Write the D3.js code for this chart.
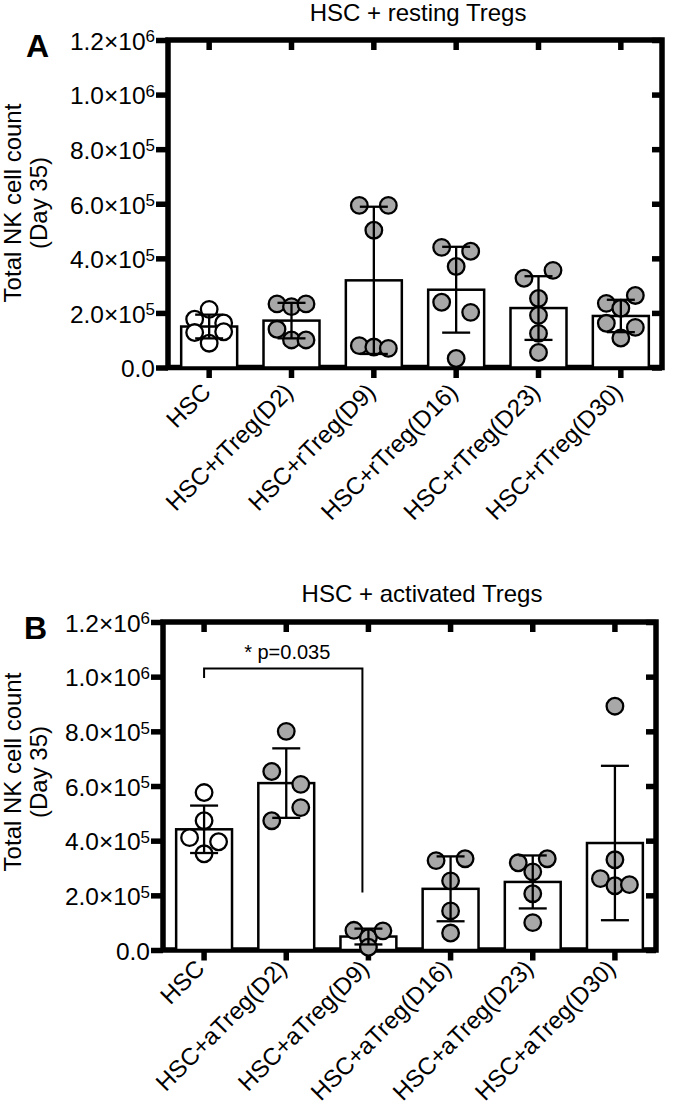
<!DOCTYPE html>
<html><head><meta charset="utf-8">
<script src="https://cdn.jsdelivr.net/npm/d3@7"></script>
<style>
body{margin:0;background:#fff;}
svg{display:block;}
</style></head><body>
<svg id="chart" width="675" height="1113"></svg>
<script>
// ---------- data ----------
const yTicks = [0, 2e5, 4e5, 6e5, 8e5, 1.0e6, 1.2e6];
const yMax = 1.2e6;
const yAxisTitle = ["Total NK cell count", "(Day 35)"];

const restingTitle = "HSC + resting Tregs";
const restingCategories = ["HSC","HSC+rTreg(D2)","HSC+rTreg(D9)","HSC+rTreg(D16)","HSC+rTreg(D23)","HSC+rTreg(D30)"];
const restingHSC  = [1.77e5, 2.13e5, 1.63e5, 1.28e5, 0.89e5, 1.31e5];
const restingD2   = [2.33e5, 2.23e5, 2.33e5, 1.40e5, 1.01e5, 1.01e5];
const restingD9   = [5.94e5, 5.94e5, 5.03e5, 0.80e5, 0.75e5, 0.70e5];
const restingD16  = [4.40e5, 4.26e5, 3.70e5, 2.39e5, 2.02e5, 0.33e5];
const restingD23  = [3.27e5, 3.56e5, 2.53e5, 1.91e5, 1.25e5, 0.55e5];
const restingD30  = [2.35e5, 2.17e5, 2.64e5, 1.62e5, 1.47e5, 1.08e5];

const activatedTitle = "HSC + activated Tregs";
const activatedCategories = ["HSC","HSC+aTreg(D2)","HSC+aTreg(D9)","HSC+aTreg(D16)","HSC+aTreg(D23)","HSC+aTreg(D30)"];
const activatedHSC = [5.76e5, 4.73e5, 4.11e5, 3.96e5, 3.52e5];
const activatedD2  = [8.00e5, 6.53e5, 6.06e5, 4.73e5, 5.21e5];
const activatedD9  = [0.72e5, 0.45e5, 0.70e5, 0.10e5];
const activatedD16 = [3.27e5, 3.34e5, 2.53e5, 1.43e5, 0.62e5];
const activatedD23 = [3.19e5, 2.86e5, 3.34e5, 2.06e5, 1.00e5];
const activatedD30 = [8.92e5, 3.30e5, 2.61e5, 2.35e5, 2.39e5];

const sigFrom = "HSC", sigTo = "HSC+aTreg(D9)", sigLabel = "* p=0.035";
const sigTop = 1.03e6, sigLeftEnd = 0.995e6, sigRightEnd = 2.1e5;

// ---------- drawing ----------
const FONT = "'Liberation Sans', Arial, Helvetica, sans-serif";
const svg = d3.select("#chart").attr("font-family", FONT);

function layoutPoints(vals, y, rowH, step){
  const pts = vals.map((v,i)=>({v, i, py:y(v), dx:0}));
  const sorted = pts.slice().sort((a,b)=>a.py-b.py);
  const rows = []; let cur = null;
  sorted.forEach(p=>{
    if (cur && p.py - cur.start < rowH) cur.pts.push(p);
    else { cur = {start:p.py, pts:[p]}; rows.push(cur); }
  });
  rows.forEach(r=>{
    r.pts.sort((a,b)=>a.i-b.i);
    const n = r.pts.length;
    const k = n % 2 === 0 ? 2 : 1;
    r.pts.forEach((p,j)=>{ p.dx = (j-(n-1)/2)*step*k; });
  });
  return pts;
}

function drawPanel(cfg, categories, groups, title, sig){
  const g = svg.append("g");
  const x = d3.scaleBand().domain(categories).range([cfg.left, cfg.right]).paddingInner(0.32).paddingOuter(0.16);
  const y = d3.scaleLinear().domain([0, yMax]).range([cfg.bottom, cfg.top]);
  const TW = 5.5;

  // frame
  g.append("rect").attr("x",cfg.left).attr("y",cfg.top)
    .attr("width",cfg.right-cfg.left).attr("height",cfg.bottom-cfg.top)
    .attr("fill","none").attr("stroke","#000").attr("stroke-width",TW);

  // left axis with labels
  const ya = g.append("g").attr("transform",`translate(${cfg.left},0)`)
    .call(d3.axisLeft(y).tickValues(yTicks).tickSize(12).tickPadding(1).tickFormat(""));
  ya.attr("font-family", FONT).attr("font-size", 24.5);
  ya.select(".domain").remove();
  ya.selectAll(".tick line").attr("stroke","#000").attr("stroke-width",TW);
  ya.selectAll(".tick text").attr("fill","#000").attr("dy","0.38em").each(function(d){
    const t = d3.select(this); t.text(null);
    if (d === 0) { t.append("tspan").text("0.0"); return; }
    const e = Math.floor(Math.log10(d) + 1e-9);
    const m = d / Math.pow(10, e);
    t.append("tspan").text(m.toFixed(1) + "×10");
    t.append("tspan").attr("dy","-0.45em").attr("font-size",17).text(e);
  });

  // right axis (inner ticks)
  const yr = g.append("g").attr("transform",`translate(${cfg.right},0)`)
    .call(d3.axisRight(y).tickValues(yTicks).tickSize(-10).tickFormat(""));
  yr.select(".domain").remove();
  yr.selectAll(".tick line").attr("stroke","#000").attr("stroke-width",TW);

  // top axis (inner ticks)
  const xt = g.append("g").attr("transform",`translate(0,${cfg.top})`)
    .call(d3.axisTop(x).tickSize(-10).tickFormat(""));
  xt.select(".domain").remove();
  xt.selectAll(".tick line").attr("stroke","#000").attr("stroke-width",TW);

  // bottom axis
  const xb = g.append("g").attr("transform",`translate(0,${cfg.bottom})`)
    .call(d3.axisBottom(x).tickSize(10.5).tickFormat(""));
  xb.select(".domain").remove();
  xb.selectAll(".tick line").attr("stroke","#000").attr("stroke-width",TW);
  xb.selectAll(".tick text").remove();

  // rotated category labels
  g.selectAll("text.xl").data(categories).join("text").attr("class","xl")
    .attr("transform", d=>`translate(${x(d)+x.bandwidth()/2+cfg.lblDx},${cfg.bottom+cfg.lblDy}) rotate(-45)`)
    .attr("text-anchor","end").attr("font-size",24).attr("fill","#000").text(d=>d);

  // title
  g.append("text").attr("x",cfg.titleX).attr("y",cfg.titleY).attr("text-anchor","middle")
    .attr("font-size",24).attr("fill","#000").text(title);

  // panel letter
  g.append("text").attr("x",cfg.letterX).attr("y",cfg.letterY).attr("font-size",32)
    .attr("font-weight","bold").attr("fill","#000").text(cfg.letter);

  // y-axis title
  const yc = cfg.yTitleY;
  yAxisTitle.forEach((s,i)=>{
    g.append("text").attr("transform",`translate(${21+i*26},${yc}) rotate(-90)`)
      .attr("text-anchor","middle").attr("font-size",24).attr("fill","#000").text(s);
  });

  // stats
  const stats = groups.map((vals,i)=>({cat:categories[i], vals, mean:d3.mean(vals), sd:d3.deviation(vals), open:i===0}));

  // bars
  g.selectAll("rect.bar").data(stats).join("rect").attr("class","bar")
    .attr("x",d=>x(d.cat)).attr("y",d=>y(d.mean))
    .attr("width",x.bandwidth()).attr("height",d=>y(0)-y(d.mean))
    .attr("fill","#fff").attr("stroke","#000").attr("stroke-width",2.5);

  // points
  stats.forEach(s=>{
    const cx = x(s.cat) + x.bandwidth()/2;
    const pts = layoutPoints(s.vals, y, 14, 14.5);
    g.selectAll(null).data(pts).join("circle")
      .attr("cx",p=>cx+p.dx).attr("cy",p=>p.py).attr("r",8.3)
      .attr("fill", s.open ? "#fff" : "#a8a8a8")
      .attr("stroke","#000").attr("stroke-width",2.3);
  });

  // error bars
  const eb = g.selectAll("g.eb").data(stats).join("g").attr("class","eb")
    .attr("stroke","#000").attr("stroke-width",2.3);
  const cxOf = d=>x(d.cat)+x.bandwidth()/2;
  eb.append("line").attr("x1",cxOf).attr("x2",cxOf)
    .attr("y1",d=>y(Math.max(0,d.mean-d.sd))).attr("y2",d=>y(d.mean+d.sd));
  eb.append("line").attr("x1",d=>cxOf(d)-14).attr("x2",d=>cxOf(d)+14)
    .attr("y1",d=>y(d.mean+d.sd)).attr("y2",d=>y(d.mean+d.sd));
  eb.append("line").attr("x1",d=>cxOf(d)-14).attr("x2",d=>cxOf(d)+14)
    .attr("y1",d=>y(Math.max(0,d.mean-d.sd))).attr("y2",d=>y(Math.max(0,d.mean-d.sd)));

  // significance bracket
  if (sig) {
    const x1 = x(sig.from)+x.bandwidth()/2, x2 = x(sig.to)+x.bandwidth()/2 - 6;
    g.append("path")
      .attr("d",`M${x1},${y(sig.leftEnd)}V${y(sig.top)}H${x2}V${y(sig.rightEnd)}`)
      .attr("fill","none").attr("stroke","#000").attr("stroke-width",2);
    g.append("text").attr("x",(x1+x2)/2+4).attr("y",y(sig.top)-9)
      .attr("text-anchor","middle").attr("font-size",20).attr("fill","#000").text(sig.label);
  }
}

drawPanel({top:40, bottom:367.5, left:168, right:662, titleX:418, titleY:21, letter:"A", letterX:26, letterY:57, yTitleY:203, lblDx:3, lblDy:26},
  restingCategories, [restingHSC, restingD2, restingD9, restingD16, restingD23, restingD30], restingTitle, null);

drawPanel({top:622, bottom:950, left:163, right:656, titleX:422, titleY:602, letter:"B", letterX:24, letterY:639, yTitleY:772, lblDx:2, lblDy:20},
  activatedCategories, [activatedHSC, activatedD2, activatedD9, activatedD16, activatedD23, activatedD30], activatedTitle,
  {from:sigFrom, to:sigTo, label:sigLabel, top:sigTop, leftEnd:sigLeftEnd, rightEnd:sigRightEnd});
</script>
</body></html>
